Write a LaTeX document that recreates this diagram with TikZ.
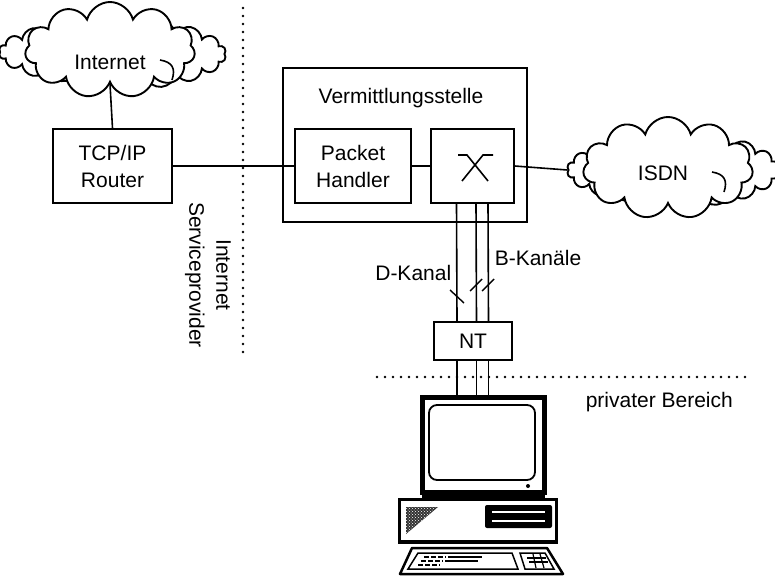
\documentclass[tikz,border=0pt]{standalone}
\usepackage{fontspec}
\setmainfont{Liberation Sans}
\usetikzlibrary{shapes.symbols,patterns}

\tikzset{
  box/.style={draw, line width=1.6pt, inner sep=0pt},
  puff/.style={cloud, draw, fill=white, line width=1.9pt, cloud ignores aspect, inner sep=0pt},
  lbl/.style={inner sep=0pt},
  border/.style={line width=2.6pt, line cap=round, dash pattern=on 0pt off 8pt},
  tick/.style={line width=1.4pt}
}

\begin{document}
\begin{tikzpicture}[x=1pt, y=-1pt, line width=1.6pt, font=\fontsize{21}{27}\selectfont]
    \useasboundingbox (0,0) rectangle (775,579);
    % Wolken
    \node [puff, cloud puffs=18, minimum width=190pt, minimum height=62pt] (inetl) at (94,52) {};
    \node [puff, cloud puffs=18, minimum width=196pt, minimum height=70pt] (inetr) at (128,54) {};
    \node [puff, cloud puffs=11, minimum width=170pt, minimum height=96pt] (inet) at (110,50) {};
    \node [lbl] at (110,62) {Internet};
    \draw (160,60) .. controls (172,62) and (176,68) .. (172,80);
    \node [puff, cloud puffs=18, minimum width=180pt, minimum height=66pt] (isdnl) at (657,170) {};
    \node [puff, cloud puffs=18, minimum width=190pt, minimum height=74pt] (isdnr) at (684,170) {};
    \node [puff, cloud puffs=11, minimum width=170pt, minimum height=102pt] (isdn) at (668,168) {};
    \node [lbl] at (663,173) {ISDN};
    \draw (712,172) .. controls (724,174) and (728,180) .. (724,192);
    % Knoten
    \node [box, minimum width=119pt, minimum height=74pt, align=center] (router) at (112.5,166) {TCP/IP\\Router};
    \node [box, minimum width=244pt, minimum height=154pt] (vst) at (405,145) {};
    \node [lbl] at (401,98) {Vermittlungsstelle};
    \node [box, minimum width=116pt, minimum height=74pt, align=center] (ph) at (353,166) {Packet\\Handler};
    \node [box, minimum width=83pt, minimum height=74pt] (sw) at (472.5,166) {};
    \node [box, minimum width=78pt, minimum height=38pt] (nt) at (473,341) {NT};
    \coordinate (pc) at (473,395);
    % Verbindungen
    \draw (inet.south) -- (router.north);
    \draw (router.east) -- (ph.west);
    \draw (ph.east) -- (sw.west);
    \draw (sw.east) -- (isdnl.west);
    \draw (458,155) -- (467,155) -- (488,181);
    \draw (493,155) -- (483,155) -- (462,181);
    \foreach \dx in {-16,3.5,15.5} {
      \draw ([xshift=\dx pt]sw.south) -- ([xshift=\dx pt]nt.north);
      \draw ([xshift=\dx pt]nt.south) -- ([xshift=\dx pt]pc);
    }
    \draw [tick] (450,290) -- (464,303);
    \draw [tick] (470,291) -- (482,279);
    \draw [tick] (482,291) -- (494,279);
    \node [lbl, anchor=east] at (452,273) {D-Kanal};
    \node [lbl, anchor=west] at (494,258) {B-Kanäle};
    % Grenzen
    \draw [border] (243,8) -- (243,352);
    \draw [border] (377,377) -- (752,377);
    \node [lbl, rotate=-90, align=center] at (208,275) {Internet\\Serviceprovider};
    \node [lbl, anchor=west] at (585,402) {privater Bereich};
    % Rechner
    \draw [line width=5pt] (422.5,397.5) rectangle (544.5,492);
    \draw [line width=1.8pt, rounded corners=8pt] (429,405) rectangle (535,480);
    \fill (528,486) circle (2pt);
    \fill (422,492) rectangle (545,498);
    \draw [line width=3.5pt] (399.5,499.5) rectangle (556.5,542);
    \fill [black!80] (406,507) -- (438,507) -- (406,534) -- cycle;
    \fill [pattern=crosshatch dots, pattern color=white] (406,507) -- (438,507) -- (406,534) -- cycle;
    \fill [rounded corners=2pt] (485,505) rectangle (552,528);
    \draw [white, line width=1.5pt] (492,512) -- (545,512);
    \draw [white, line width=1.5pt] (492,521) -- (545,521);
    \draw [line width=2.5pt, line join=round] (412,548) -- (547,548) -- (563,574) -- (400,574) -- cycle;
    \draw [line width=1.5pt] (418,553) -- (512,553) -- (518,569) -- (408,569) -- cycle;
    \draw [line width=1.5pt] (520,553) -- (545,553) -- (554,569) -- (525,569) -- cycle;
    \foreach \r in {0,1,2}
      \draw [line width=2.5pt, dash pattern=on 5pt off 2pt] (424-\r*3,557+\r*4) -- (446-\r*3,557+\r*4);
    \draw [line width=1.2pt] (448,557) -- (482,557);
    \draw [line width=1.2pt] (445,561) -- (478,561);
    \draw [line width=1.2pt] (527,558) -- (546,558);
    \draw [line width=1.2pt] (529,562) -- (548,562);
    \draw [line width=1.2pt] (533,554) -- (536,568);
    \draw [line width=1.2pt] (540,554) -- (544,568);
\end{tikzpicture}
\end{document}
